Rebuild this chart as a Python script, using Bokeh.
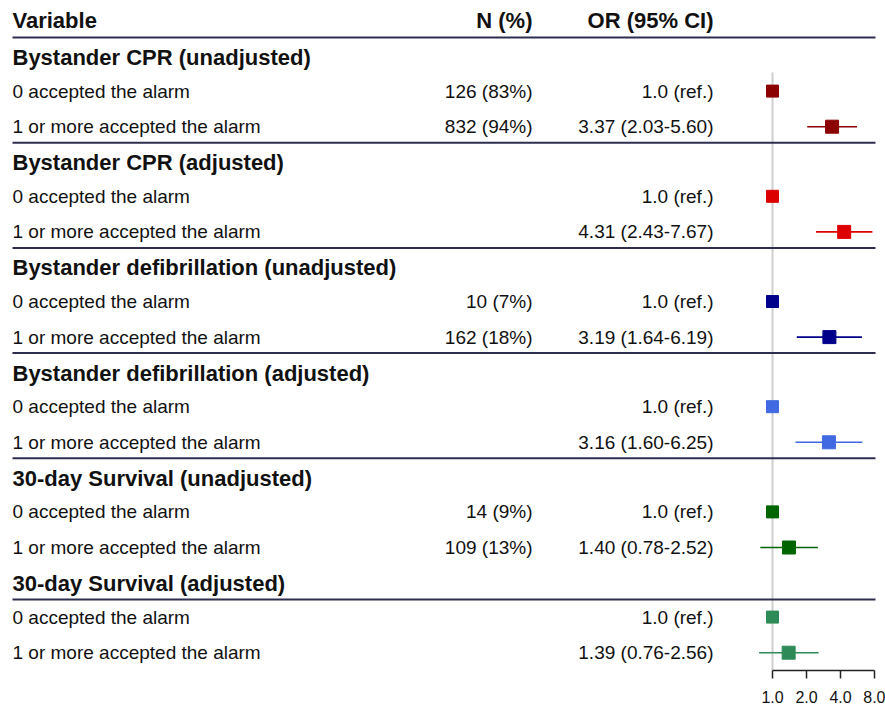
import numpy as np
from bokeh.plotting import figure
from bokeh.models import Range1d, LogScale, LogAxis, FixedTicker, PrintfTickFormatter
from bokeh.core.properties import value
from bokeh.embed import file_html
from bokeh.resources import INLINE

# ---------------- data ----------------
header = ["Variable", "N (%)", "OR (95% CI)"]
groups = [
    "Bystander CPR (unadjusted)",
    "Bystander CPR (adjusted)",
    "Bystander defibrillation (unadjusted)",
    "Bystander defibrillation (adjusted)",
    "30-day Survival (unadjusted)",
    "30-day Survival (adjusted)",
]
row_labels = ["0 accepted the alarm", "1 or more accepted the alarm"]
n_ref = ["126 (83%)", "", "10 (7%)", "", "14 (9%)", ""]
n_exposed = ["832 (94%)", "", "162 (18%)", "", "109 (13%)", ""]
ref_or = 1.0
or_est = [3.37, 4.31, 3.19, 3.16, 1.40, 1.39]
ci_low = [2.03, 2.43, 1.64, 1.60, 0.78, 0.76]
ci_high = [5.60, 7.67, 6.19, 6.25, 2.52, 2.56]
colors = ["#8B0000", "#DD0000", "#00008B", "#4169E1", "#006400", "#2E8B57"]
x_ticks = [1, 2, 4, 8]

# ---------------- layout ----------------
W, FH = 885, 670
G0, GSTEP = 57, 105.2
OFF_REF, OFF_EXP = 33.6, 69.2
HEADER_Y = 20
X_LEFT, X_N, X_OR = 12, 532, 713
X_ONE, PX_DOUBLE = 772, 34
FONT = "Liberation Sans"
BOLD_SIZE = "22px"
TEXT_SIZE = "19px"
TXT = "#111111"
SEP_COLOR = "#2E2E50"

n_g = len(groups)
g_y = [G0 + GSTEP * g for g in range(n_g)]
r_y = [y + OFF_REF for y in g_y]
e_y = [y + OFF_EXP for y in g_y]

p = figure(frame_width=W, frame_height=FH,
           x_range=Range1d(0, W), y_range=Range1d(FH, 0),
           x_axis_location=None, y_axis_location=None,
           output_backend="svg", toolbar_location=None, min_border=0)
p.grid.visible = False
p.outline_line_color = None
p.background_fill_color = "white"
p.border_fill_color = "white"

f_start = 2 ** (-X_ONE / PX_DOUBLE)
f_end = 2 ** ((W - X_ONE) / PX_DOUBLE)
p.extra_x_ranges = {"f": Range1d(f_start, f_end)}
p.extra_x_scales = {"f": LogScale()}

# reference line at OR = 1
p.segment(x0=[ref_or], x1=[ref_or], y0=[g_y[0] + 15], y1=[FH],
          x_range_name="f", line_color="#cfcfcf", line_width=2)

# separators: under header, after groups 1-4, under last group header
sep_ys = [HEADER_Y + 17] + [e_y[g] + 16 for g in range(4)] + [g_y[5] + 16]
p.segment(x0=[X_LEFT] * len(sep_ys), x1=[875] * len(sep_ys), y0=sep_ys, y1=sep_ys,
          line_color=SEP_COLOR, line_width=2)

# header texts
p.text(x=[X_LEFT], y=[HEADER_Y], text=[header[0]], text_font=value(FONT),
       text_font_size=value(BOLD_SIZE), text_font_style="bold", text_color=TXT,
       text_align="left", text_baseline="middle")
p.text(x=[X_N, X_OR], y=[HEADER_Y, HEADER_Y], text=header[1:], text_font=value(FONT),
       text_font_size=value(BOLD_SIZE), text_font_style="bold", text_color=TXT,
       text_align="right", text_baseline="middle")

p.text(x=[X_LEFT] * n_g, y=g_y, text=groups, text_font=value(FONT),
       text_font_size=value(BOLD_SIZE), text_font_style="bold", text_color=TXT,
       text_align="left", text_baseline="middle")

lab_y = r_y + e_y
lab_t = [row_labels[0]] * n_g + [row_labels[1]] * n_g
p.text(x=[X_LEFT] * len(lab_y), y=lab_y, text=lab_t, text_font=value(FONT),
       text_font_size=value(TEXT_SIZE), text_color=TXT,
       text_align="left", text_baseline="middle")

p.text(x=[X_N] * len(lab_y), y=lab_y, text=n_ref + n_exposed, text_font=value(FONT),
       text_font_size=value(TEXT_SIZE), text_color=TXT,
       text_align="right", text_baseline="middle")

or_text = [f"{ref_or:.1f} (ref.)"] * n_g + [
    f"{o:.2f} ({l:.2f}-{h:.2f})" for o, l, h in zip(or_est, ci_low, ci_high)]
p.text(x=[X_OR] * len(lab_y), y=lab_y, text=or_text, text_font=value(FONT),
       text_font_size=value(TEXT_SIZE), text_color=TXT,
       text_align="right", text_baseline="middle")

# CIs and points
p.segment(x0=ci_low, x1=ci_high, y0=e_y, y1=e_y, x_range_name="f",
          line_color=colors, line_width=1.6)
p.scatter(x=[ref_or] * n_g, y=r_y, marker="square", size=12,
          fill_color=colors, line_color=colors, x_range_name="f")
p.scatter(x=or_est, y=e_y, marker="square", size=13,
          fill_color=colors, line_color=colors, x_range_name="f")

ax = LogAxis(x_range_name="f", ticker=FixedTicker(ticks=x_ticks),
             formatter=PrintfTickFormatter(format="%.1f"), bounds=(1, 8))
ax.major_tick_in = 0
ax.major_tick_out = 8
ax.minor_tick_in = 0
ax.minor_tick_out = 0
ax.axis_line_width = 1.5
ax.axis_line_color = "#222222"
ax.major_tick_line_width = 1.5
ax.major_tick_line_color = "#222222"
ax.major_label_standoff = 12
ax.major_label_text_font = FONT
ax.major_label_text_font_size = "16px"
ax.major_label_text_color = "#111111"
p.add_layout(ax, "below")

open("out.html", "w").write(file_html(p, INLINE))
